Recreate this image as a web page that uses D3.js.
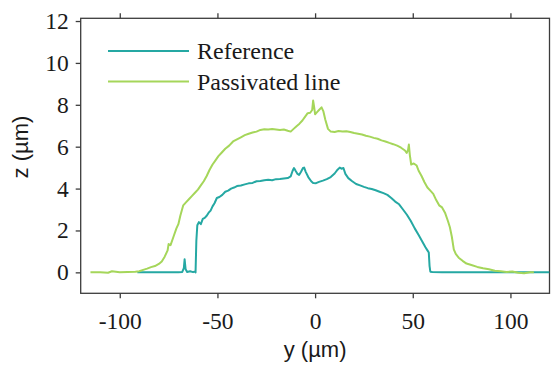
<!DOCTYPE html>
<html>
<head>
<meta charset="utf-8">
<script src="https://cdn.jsdelivr.net/npm/d3@7"></script>
<style>
  html, body { margin: 0; padding: 0; background: #fff; }
  svg { display: block; }
</style>
</head>
<body>
<svg id="chart" width="551" height="365"></svg>
<script>
// ---- data ----
const seriesNames = ["Reference", "Passivated line"];
const xTicks = [-100, -50, 0, 50, 100];
const yTicks = [0, 2, 4, 6, 8, 10, 12];

const refY = [-91, -85, -80, -75, -70, -68, -67.2, -66.8, -66.3, -65.5, -64, -62.5, -61.5, -61.2, -60.8, -60.3, -59.5, -58.5, -57.5, -56.5, -55.5, -54.5, -53.5, -52.5, -51.5, -50.3, -49, -47.5, -46, -44.5, -43, -41.5, -40, -38, -36, -34, -32, -30, -28, -26, -24, -22, -20, -18, -16, -14, -12.5, -11.5, -10.8, -10, -9, -8.2, -7.2, -6.2, -5.6, -4.8, -3.5, -2, -1, 0.5, 2, 4, 6, 8, 10, 11.5, 12.6, 13.5, 14.5, 15.5, 17, 19, 21, 23, 25, 27, 29, 31, 33, 35, 37, 39, 41, 43, 45, 47, 49, 51, 53, 55, 56.5, 57.5, 58.2, 58.6, 59, 60, 65, 70, 80, 90, 100, 110, 120];
const refZ = [0, 0, 0.01, 0, 0, 0.02, 0.2, 0.62, 0.15, 0.02, 0.05, 0.01, 0.04, 0.0, 1.5, 2.25, 2.4, 2.3, 2.55, 2.6, 2.7, 2.85, 2.95, 3.15, 3.3, 3.55, 3.6, 3.7, 3.85, 3.9, 4.0, 4.05, 4.12, 4.15, 4.2, 4.25, 4.27, 4.35, 4.36, 4.4, 4.42, 4.4, 4.45, 4.46, 4.48, 4.5, 4.58, 4.85, 4.98, 4.85, 4.7, 4.65, 4.8, 4.98, 5.0, 4.8, 4.55, 4.35, 4.27, 4.26, 4.32, 4.38, 4.45, 4.55, 4.72, 4.9, 5.0, 4.95, 4.98, 4.7, 4.5, 4.35, 4.22, 4.15, 4.08, 4.02, 3.98, 3.92, 3.85, 3.78, 3.7, 3.55, 3.38, 3.25, 3.0, 2.75, 2.45, 2.1, 1.78, 1.45, 1.2, 1.05, 0.95, 0.3, 0.03, 0.02, 0, 0.01, 0, 0.01, 0, 0, 0];

const pasY = [-115, -110, -106, -104, -100, -96, -92, -90, -88, -86, -84, -82, -80, -78.5, -77, -75.5, -75, -74, -72.5, -71, -70, -69, -67.5, -66, -64.5, -63, -61.5, -60, -58.5, -57, -55.5, -54, -52.5, -51, -49.5, -48, -46, -44, -42, -40, -38, -36, -34, -32, -30, -28, -26, -24, -22, -20, -18, -16, -14, -12.5, -11, -9.5, -8, -6.5, -5, -3.8, -2.5, -1.5, -1.0, -0.5, 0, 1, 2, 3.3, 4.2, 5.2, 6.6, 8, 10, 12, 14, 16, 18, 20, 22, 24, 26, 28, 30, 32, 34, 36, 38, 40, 42, 44, 46, 46.9, 47.6, 48, 48.5, 49.2, 50.5, 52, 53, 54.5, 56, 57.5, 59, 60.5, 62, 63.5, 65, 66.5, 68, 69, 70, 71, 72, 73.5, 75.5, 77.5, 80, 83, 86, 89, 92, 95, 98, 101, 104, 107, 110, 112];
const pasZ = [0, 0.01, -0.02, 0.05, 0.0, 0.02, 0.03, 0.05, 0.12, 0.18, 0.25, 0.3, 0.4, 0.52, 0.75, 1.05, 1.35, 1.3, 1.7, 2.1, 2.3, 2.7, 3.2, 3.35, 3.5, 3.65, 3.8, 3.95, 4.15, 4.35, 4.6, 4.9, 5.15, 5.35, 5.55, 5.7, 5.9, 6.05, 6.25, 6.35, 6.45, 6.55, 6.62, 6.68, 6.72, 6.8, 6.83, 6.82, 6.84, 6.82, 6.8, 6.82, 6.76, 6.72, 6.85, 6.98, 7.1, 7.25, 7.45, 7.6, 7.62, 7.75, 8.2, 7.9, 7.55, 7.65, 7.75, 7.88, 7.7, 7.3, 6.85, 6.72, 6.7, 6.75, 6.72, 6.74, 6.7, 6.65, 6.62, 6.58, 6.52, 6.48, 6.42, 6.38, 6.3, 6.25, 6.18, 6.12, 6.05, 5.95, 5.82, 5.7, 5.85, 6.1, 5.6, 5.15, 5.2, 5.1, 4.85, 4.6, 4.3, 4.05, 3.9, 3.75, 3.45, 3.2, 3.1, 2.85, 2.45, 2.15, 1.7, 1.1, 0.88, 0.7, 0.55, 0.42, 0.35, 0.26, 0.2, 0.15, 0.08, 0.05, 0.02, 0.04, -0.02, -0.04, 0.0, 0.01];

// ---- layout ----
const W = 551, H = 365;
const L = 80.7, R = 549.5, T = 18.3, B = 293.3;
const colors = ["#25a8a3", "#a5d65a"];
const frameColor = "#3c3c3c";

const svg = d3.select("#chart");
const x = d3.scaleLinear().domain([-120, 120]).range([L, R]);
const y = d3.scaleLinear().domain([-1, 12.13]).range([B, T]);

const fmt = d => String(d).replace("\u2212", "-");

// bottom axis
const gx = svg.append("g").attr("transform", `translate(0,${B})`)
  .call(d3.axisBottom(x).tickValues(xTicks).tickSize(5).tickPadding(14).tickFormat(fmt));
// top ticks (no labels)
const gt = svg.append("g").attr("transform", `translate(0,${T})`)
  .call(d3.axisTop(x).tickValues(xTicks).tickSize(5).tickFormat(""));
// left axis
const gy = svg.append("g").attr("transform", `translate(${L},0)`)
  .call(d3.axisLeft(y).tickValues(yTicks).tickSize(5).tickPadding(7).tickFormat(fmt));

[gx, gt, gy].forEach(g => {
  g.select(".domain").remove();
  g.selectAll(".tick line").attr("stroke", frameColor).attr("stroke-width", 1.3);
  g.selectAll(".tick text")
    .attr("fill", "#1a1a1a")
    .style("font-family", "'Liberation Serif', 'Times New Roman', serif")
    .style("font-size", "23.5px");
});

// frame
svg.append("rect")
  .attr("x", L).attr("y", T).attr("width", R - L).attr("height", B - T)
  .attr("fill", "none").attr("stroke", frameColor).attr("stroke-width", 1.3);

// lines
svg.append("clipPath").attr("id", "plotclip")
  .append("rect").attr("x", L).attr("y", T).attr("width", R - L).attr("height", B - T);

const line = d3.line().x(d => x(d[0])).y(d => y(d[1]));
const series = [
  d3.zip(refY, refZ),
  d3.zip(pasY, pasZ)
];
svg.append("g").attr("clip-path", "url(#plotclip)")
  .selectAll("path").data(series).join("path")
  .attr("d", line)
  .attr("fill", "none")
  .attr("stroke", (d, i) => colors[i])
  .attr("stroke-width", 2)
  .attr("stroke-linejoin", "round");

// legend
const legY = [51, 81.5];
const leg = svg.append("g");
seriesNames.forEach((name, i) => {
  leg.append("line")
    .attr("x1", 108).attr("x2", 189)
    .attr("y1", legY[i]).attr("y2", legY[i])
    .attr("stroke", colors[i]).attr("stroke-width", 2.2);
  leg.append("text")
    .attr("x", 197).attr("y", legY[i]).attr("dy", "0.35em")
    .attr("fill", "#1a1a1a")
    .style("font-family", "'Liberation Serif', 'Times New Roman', serif")
    .style("font-size", "24px")
    .text(name);
});

// axis labels
svg.append("text")
  .attr("x", (L + R) / 2).attr("y", 357)
  .attr("text-anchor", "middle")
  .attr("fill", "#1a1a1a")
  .style("font-family", "'Liberation Sans', Arial, sans-serif")
  .style("font-size", "22px")
  .text("y (µm)");

svg.append("text")
  .attr("transform", "translate(28,147) rotate(-90)")
  .attr("text-anchor", "middle")
  .attr("fill", "#1a1a1a")
  .style("font-family", "'Liberation Sans', Arial, sans-serif")
  .style("font-size", "22px")
  .text("z (µm)");
</script>
</body>
</html>
